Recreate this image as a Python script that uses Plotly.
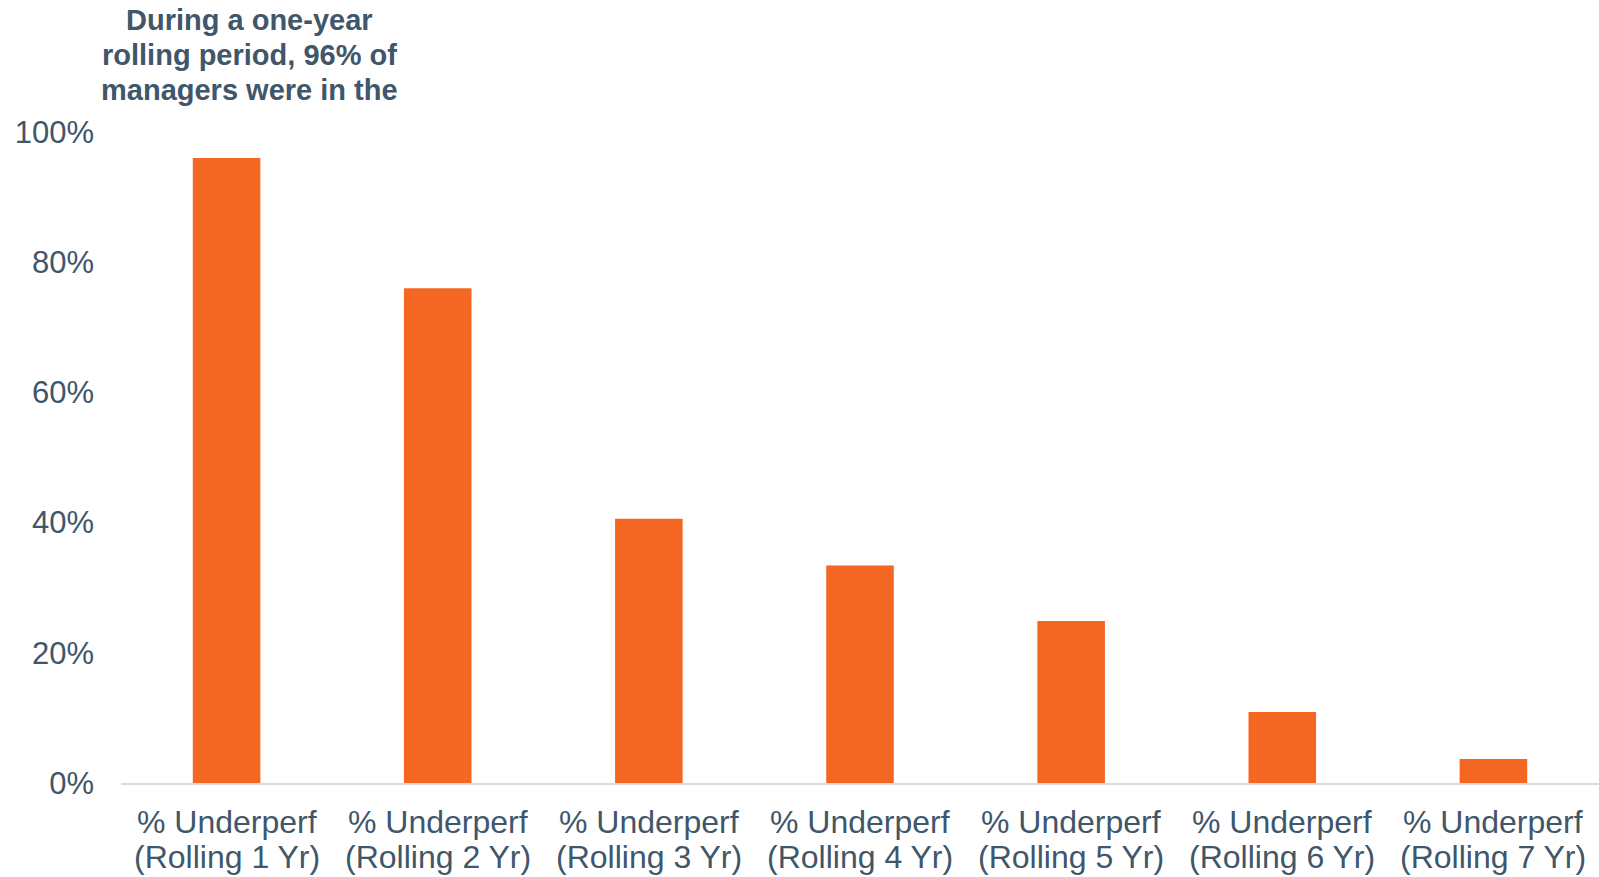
import plotly.graph_objects as go

categories = ["% Underperf (Rolling 1 Yr)", "% Underperf (Rolling 2 Yr)", "% Underperf (Rolling 3 Yr)",
              "% Underperf (Rolling 4 Yr)", "% Underperf (Rolling 5 Yr)", "% Underperf (Rolling 6 Yr)",
              "% Underperf (Rolling 7 Yr)"]
label_line1 = ["% Underperf"] * 7
label_line2 = ["(Rolling 1 Yr)", "(Rolling 2 Yr)", "(Rolling 3 Yr)", "(Rolling 4 Yr)",
               "(Rolling 5 Yr)", "(Rolling 6 Yr)", "(Rolling 7 Yr)"]
values = [0.96, 0.76, 0.406, 0.334, 0.249, 0.109, 0.037]
title_lines = ["During a one-year", "rolling period, 96% of", "managers were in the"]

TEXT = "#40566A"
W, H = 1599, 877
L, R, T, B = 121, 0, 132, 94
fig = go.Figure(go.Bar(x=categories, y=values, marker=dict(color="#F36723", line=dict(width=0)),
                       width=0.32))

fig.update_layout(
    width=W, height=H,
    margin=dict(l=L, r=R, t=T, b=B),
    paper_bgcolor="white", plot_bgcolor="white",
    font=dict(family="Liberation Sans, Arial", color=TEXT, size=30),
    showlegend=False,
)
fig.update_xaxes(showline=True, linecolor="#D9D9D9", linewidth=2, showgrid=False,
                 showticklabels=False, ticks="")
fig.update_yaxes(range=[0, 1], tickvals=[0, 0.2, 0.4, 0.6, 0.8, 1.0], tickformat=".0%",
                 showgrid=False, zeroline=False, showline=False,
                 tickfont=dict(size=31, color=TEXT), ticklabelstandoff=26)

ph = H - T - B

def ypaper(px):
    return (H - B - px) / ph

for cat, l1, l2 in zip(categories, label_line1, label_line2):
    for txt, py in ((l1, 822), (l2, 857)):
        fig.add_annotation(text=txt, x=cat, xref="x", yref="paper", y=ypaper(py),
                           xanchor="center", yanchor="middle", showarrow=False,
                           font=dict(size=32, color=TEXT))

for line, yy in zip(title_lines, [20, 55, 90]):
    fig.add_annotation(text="<b>%s</b>" % line, xref="paper", yref="paper",
                       x=(249 - L) / (W - L - R), y=ypaper(yy),
                       xanchor="center", yanchor="middle", showarrow=False,
                       font=dict(size=29, color=TEXT))

fig.write_html("out.html")
